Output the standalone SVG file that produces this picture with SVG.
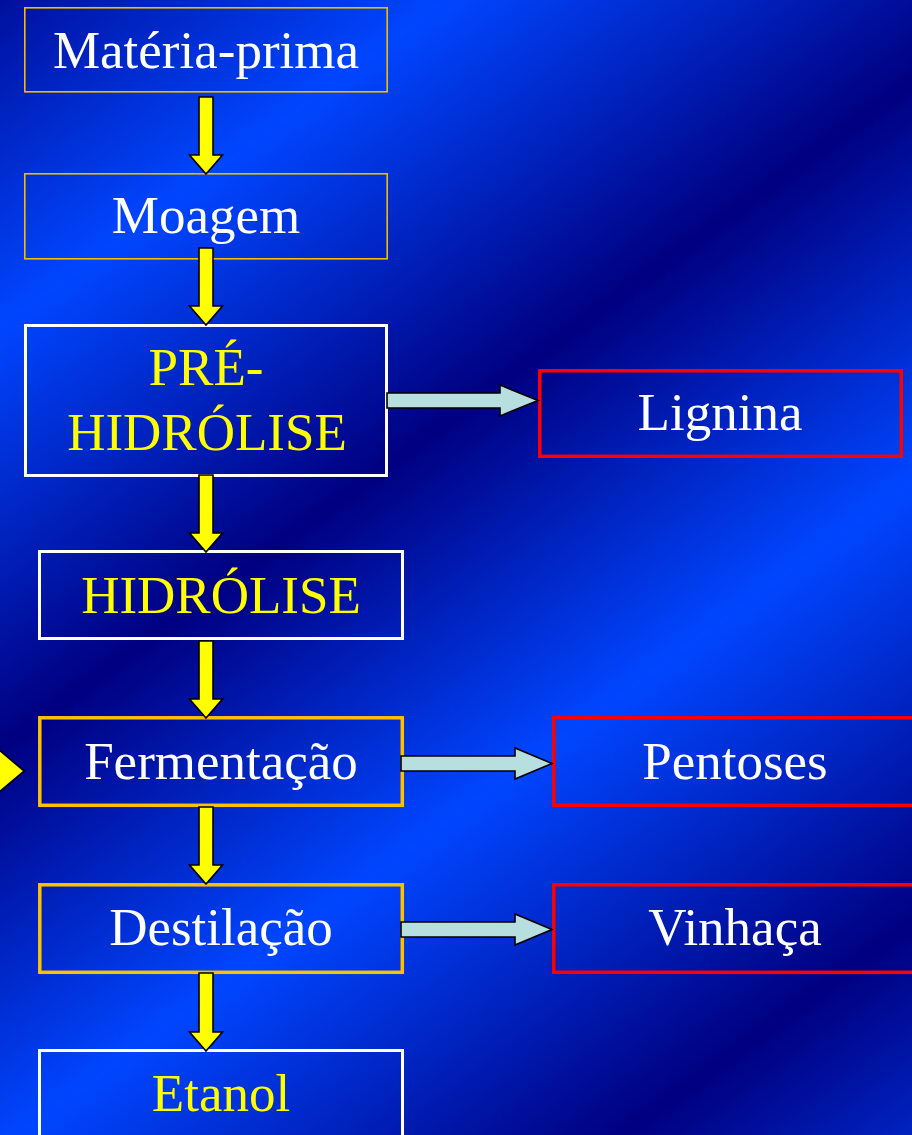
<svg xmlns="http://www.w3.org/2000/svg" width="912" height="1135" viewBox="0 0 912 1135">
  <defs>
    <!-- diagonal banded backdrop: navy / bright blue stripes -->
    <linearGradient id="bg" gradientUnits="userSpaceOnUse" x1="-44" y1="-61" x2="958" y2="1311">
      <stop offset="0" stop-color="#000080"/>
      <stop offset="0.2" stop-color="#0046ff"/>
      <stop offset="0.4" stop-color="#000080"/>
      <stop offset="0.59" stop-color="#0046ff"/>
      <stop offset="0.8" stop-color="#000080"/>
      <stop offset="1" stop-color="#0046ff"/>
    </linearGradient>
    <style>
      .box { fill: none; }
      .thin-gold { stroke: #f2bc00; stroke-width: 1.6; }
      .gold { stroke: #ffc000; stroke-width: 3.5; }
      .white { stroke: #ffffff; stroke-width: 3; }
      .red { stroke: #ff0000; stroke-width: 3.5; }
      .label { font-family: "Liberation Serif", "Times New Roman", serif; font-size: 53px; text-anchor: middle; }
      .w { fill: #ffffff; }
      .y { fill: #ffff00; }
      .down { fill: #ffff00; stroke: #000000; stroke-width: 1.6; stroke-linejoin: miter; }
      .side { fill: #b8dfe0; stroke: #000000; stroke-width: 1.6; stroke-linejoin: miter; }
    </style>
  </defs>

  <rect x="0" y="0" width="912" height="1135" fill="url(#bg)"/>

  <g id="materia-prima">
    <rect class="box thin-gold" x="24.8" y="7.8" width="362.4" height="84"/>
    <text class="label w" x="206" y="68">Matéria-prima</text>
  </g>

  <g id="moagem">
    <rect class="box thin-gold" x="24.8" y="173.8" width="362.4" height="85"/>
    <text class="label w" x="206" y="233">Moagem</text>
  </g>

  <g id="pre-hidrolise">
    <rect class="box white" x="25.5" y="325.5" width="361" height="150"/>
    <text class="label y" x="206" y="385">PRÉ-</text>
    <text class="label y" x="207" y="450">HIDRÓLISE</text>
  </g>

  <g id="lignina">
    <rect class="box red" x="539.8" y="370.8" width="361.5" height="85.5"/>
    <text class="label w" x="720" y="430">Lignina</text>
  </g>

  <g id="hidrolise">
    <rect class="box white" x="39.5" y="551.5" width="363" height="87"/>
    <text class="label y" x="221" y="613">HIDRÓLISE</text>
  </g>

  <g id="fermentacao">
    <rect class="box gold" x="39.8" y="717.8" width="362.5" height="87.5"/>
    <text class="label w" x="221" y="779">Fermentação</text>
  </g>

  <g id="pentoses">
    <rect class="box red" x="553.8" y="717.8" width="362.5" height="87.5"/>
    <text class="label w" x="735" y="779">Pentoses</text>
  </g>

  <g id="destilacao">
    <rect class="box gold" x="39.8" y="884.8" width="362.5" height="87.5"/>
    <text class="label w" x="221" y="945">Destilação</text>
  </g>

  <g id="vinhaca">
    <rect class="box red" x="553.8" y="884.8" width="362.5" height="87.5"/>
    <text class="label w" x="735" y="945">Vinhaça</text>
  </g>

  <g id="etanol">
    <rect class="box white" x="39.5" y="1050.5" width="363" height="100"/>
    <text class="label y" x="221" y="1111">Etanol</text>
  </g>

  <g id="connectors">
    <!-- main downward flow -->
    <polygon class="down" points="199,97 213,97 213,155 222.5,155 206,174 189.5,155 199,155"/>
    <polygon class="down" points="199,248 213,248 213,306 222.5,306 206,325 189.5,306 199,306"/>
    <polygon class="down" points="199,475 213,475 213,533 222.5,533 206,552 189.5,533 199,533"/>
    <polygon class="down" points="199,641 213,641 213,699 222.5,699 206,718 189.5,699 199,699"/>
    <polygon class="down" points="199,807 213,807 213,865 222.5,865 206,884 189.5,865 199,865"/>
    <polygon class="down" points="199,973 213,973 213,1032 222.5,1032 206,1051 189.5,1032 199,1032"/>
    <!-- incoming feed at the left edge -->
    <polygon class="down" points="-8,744 24,771 -8,798"/>
    <!-- side streams -->
    <polygon class="side" points="387,393 500,393 500,385 538,400.5 500,416 500,408 387,408"/>
    <polygon class="side" points="401,756 515,756 515,748 552,763.5 515,779 515,771 401,771"/>
    <polygon class="side" points="401,922 515,922 515,914 552,929.5 515,945 515,937 401,937"/>
  </g>
</svg>
